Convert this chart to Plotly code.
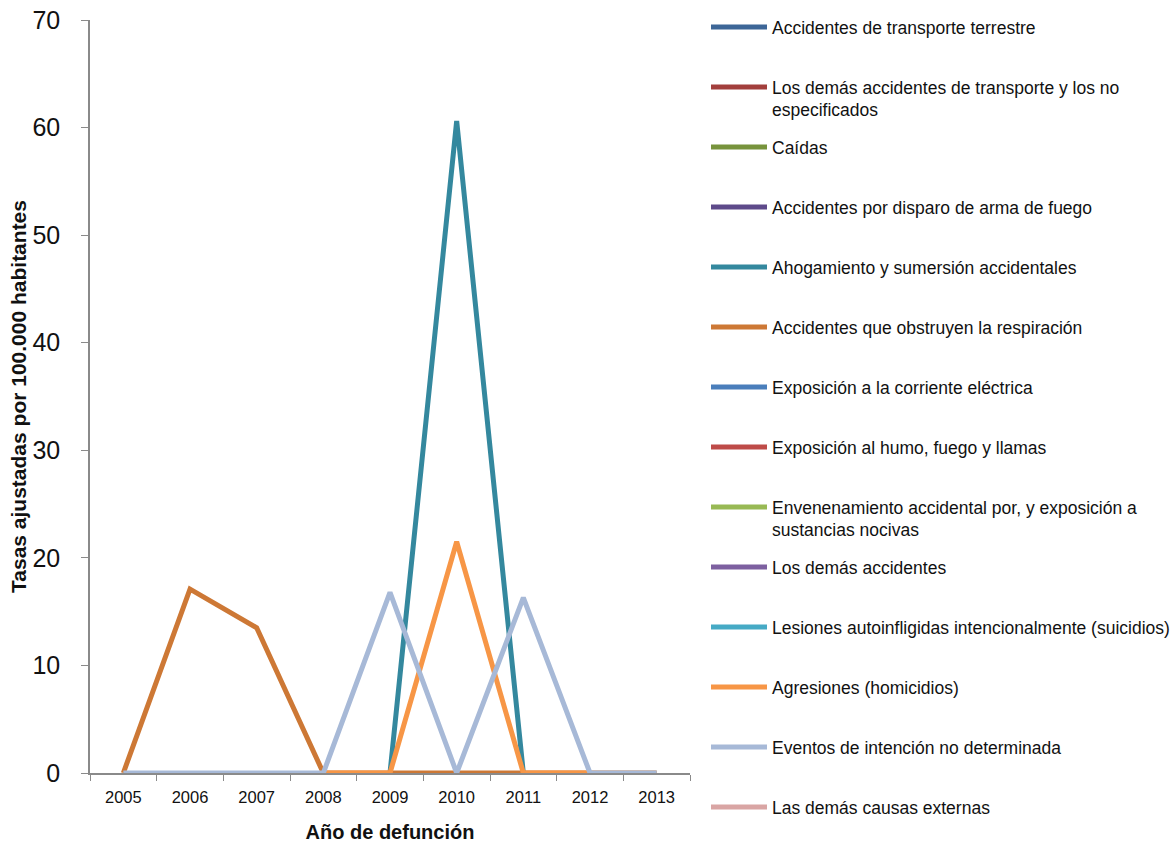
import plotly.graph_objects as go

years = ["2005", "2006", "2007", "2008", "2009", "2010", "2011", "2012", "2013"]

series_names = [
    "Accidentes de transporte terrestre",
    "Los demás accidentes de transporte y los no<br>especificados",
    "Caídas",
    "Accidentes por disparo de arma de fuego",
    "Ahogamiento y sumersión accidentales",
    "Accidentes que obstruyen la respiración",
    "Exposición a la corriente eléctrica",
    "Exposición al humo, fuego y llamas",
    "Envenenamiento accidental por, y exposición a<br>sustancias nocivas",
    "Los demás accidentes",
    "Lesiones autoinfligidas intencionalmente (suicidios)",
    "Agresiones (homicidios)",
    "Eventos de intención no determinada",
    "Las demás causas externas",
]

series_colors = [
    "#3D6697", "#A23F3C", "#77933C", "#5E4A8A", "#34889E", "#CD7835", "#4A7EBB",
    "#BE4B48", "#98B954", "#7D60A0", "#46AAC5", "#F79646", "#A7B9D7", "#D9A5A4",
]

N = None
transporte_terrestre = [N] * 9
otros_transporte = [N] * 9
caidas = [N] * 9
disparo = [N] * 9
ahogamiento = [N, N, N, N, 0, 60.6, 0, N, N]
obstruyen = [0, 17.1, 13.5, 0, 0, 0, 0, 0, 0]
corriente = [N] * 9
humo = [N] * 9
envenenamiento = [N] * 9
demas_accidentes = [N] * 9
suicidios = [N] * 9
homicidios = [N, N, N, 0, 0, 21.5, 0, 0, N]
no_determinada = [0, 0, 0, 0, 16.8, 0, 16.3, 0, 0]
demas_causas = [N] * 9

series_values = [
    transporte_terrestre, otros_transporte, caidas, disparo, ahogamiento, obstruyen,
    corriente, humo, envenenamiento, demas_accidentes, suicidios, homicidios,
    no_determinada, demas_causas,
]

FONT = "Liberation Sans, Arial, sans-serif"
TXT = "#111111"

fig = go.Figure()
for i, (name, vals, col) in enumerate(zip(series_names, series_values, series_colors)):
    label = name if "<br>" in name else name + "<br> "
    fig.add_trace(go.Scatter(
        x=years, y=vals, name=label, mode="lines",
        line=dict(color=col, width=5),
        legendgroup=f"g{i}", connectgaps=False,
    ))

fig.update_layout(
    width=1173, height=846,
    margin=dict(l=90, r=483, t=20, b=73, autoexpand=False),
    paper_bgcolor="white", plot_bgcolor="white",
    font=dict(family=FONT, color=TXT),
    showlegend=True,
    legend=dict(
        xref="container", yref="container",
        x=706 / 1173, xanchor="left", y=1 - 9 / 846, yanchor="top",
        font=dict(family=FONT, size=17.5, color=TXT),
        itemwidth=56, valign="top", traceorder="grouped", tracegroupgap=11.5,
        bgcolor="rgba(0,0,0,0)", maxheight=846,
    ),
    xaxis=dict(
        type="category", showgrid=False, showline=True, linecolor="#8a8a8a", linewidth=1.5,
        ticks="outside", tickson="boundaries", ticklen=6, tickcolor="#8a8a8a",
        tickfont=dict(family=FONT, size=16.5, color=TXT), ticklabelstandoff=8,
        range=[-0.5, 8.5], automargin=False,
        title=dict(text="<b>Año de defunción</b>", font=dict(family=FONT, size=20, color=TXT), standoff=20),
    ),
    yaxis=dict(
        range=[0, 70], dtick=10, showgrid=False, zeroline=False, showline=True,
        linecolor="#8a8a8a", linewidth=1.5, ticks="outside", ticklen=7, tickcolor="#8a8a8a",
        tickfont=dict(family=FONT, size=25, color=TXT), ticklabelstandoff=16,
        automargin=False,
        title=dict(text="<b>Tasas ajustadas por 100.000 habitantes</b>", font=dict(family=FONT, size=21, color=TXT), standoff=0),
    ),
)

fig.write_html(
    "out.html",
    config={"displayModeBar": False},
    post_script="document.body.style.margin='0';document.body.style.padding='0';",
)
